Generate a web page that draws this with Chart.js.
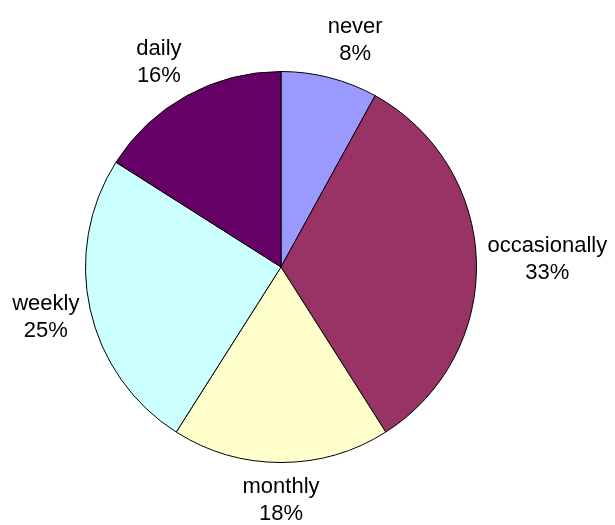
<!DOCTYPE html>
<html>
<head>
<meta charset="utf-8">
<script src="https://cdn.jsdelivr.net/npm/chart.js@4/dist/chart.umd.min.js"></script>
<style>
  html, body { margin: 0; padding: 0; background: #fff; }
  #wrap { width: 615px; height: 525px; }
</style>
</head>
<body>
<div id="wrap"><canvas id="chart" width="615" height="525"></canvas></div>
<script>
var labels = ['never', 'occasionally', 'monthly', 'weekly', 'daily'];
var values = [8, 33, 18, 25, 16];
var colors = ['#9999FF', '#993366', '#FFFFCC', '#CCFFFF', '#660066'];

// draws "name / pct%" outside each slice, like the spreadsheet labels
var outsideLabels = {
    id: 'outsideLabels',
    afterDraw: function (chart) {
        var ctx = chart.ctx;
        var meta = chart.getDatasetMeta(0);
        var total = values.reduce(function (a, b) { return a + b; }, 0);
        ctx.save();
        ctx.font = '22px "Liberation Sans", Arial, sans-serif';
        ctx.fillStyle = '#000';
        ctx.textAlign = 'center';
        ctx.textBaseline = 'middle';
        var lineH = 27;
        meta.data.forEach(function (arc, i) {
            var mid = (arc.startAngle + arc.endAngle) / 2;
            var dx = Math.cos(mid), dy = Math.sin(mid);
            var pct = Math.round(values[i] / total * 100) + '%';
            var w = Math.max(ctx.measureText(labels[i]).width, ctx.measureText(pct).width);
            var h = lineH * 2;
            var d = arc.outerRadius + 11;
            // push the text box sideways so it clears the circle
            var sx = dx / Math.max(Math.abs(dx), 0.3);
            var x = arc.x + dx * d + sx * w / 2;
            var y = arc.y + dy * d + dy * h / 2;
            ctx.fillText(labels[i], x, y - lineH / 2);
            ctx.fillText(pct, x, y + lineH / 2);
        });
        ctx.restore();
    }
};

new Chart(document.getElementById('chart'), {
    type: 'pie',
    data: {
        labels: labels,
        datasets: [{
            data: values,
            backgroundColor: colors,
            borderColor: '#000',
            borderWidth: 1
        }]
    },
    options: {
        responsive: false,
        animation: false,
        layout: {
            padding: { top: 71, bottom: 62, left: 85, right: 138 }
        },
        plugins: {
            legend: { display: false },
            tooltip: { enabled: false }
        }
    },
    plugins: [outsideLabels]
});
</script>
</body>
</html>
